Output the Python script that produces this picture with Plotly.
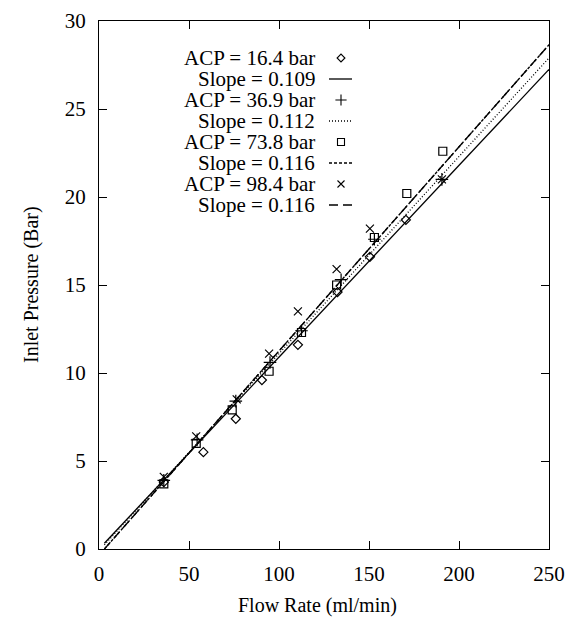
import plotly.graph_objects as go

# ---- data ----
acp_labels = ["ACP = 16.4 bar", "ACP = 36.9 bar", "ACP = 73.8 bar", "ACP = 98.4 bar"]
slope_labels = ["Slope = 0.109", "Slope = 0.112", "Slope = 0.116", "Slope = 0.116"]
slopes = [0.109, 0.112, 0.116, 0.116]
intercepts = [0.0, -0.1, -0.35, -0.35]
fit_x = [3, 250]

flow_16 = [36, 58, 76, 90.5, 110.5, 132.5, 150.5, 170.5]
pres_16 = [3.8, 5.5, 7.4, 9.6, 11.6, 14.6, 16.6, 18.7]

flow_37 = [36, 54.5, 76, 95, 112.5, 134.5, 153, 190.5]
pres_37 = [3.9, 6.2, 8.4, 10.6, 12.4, 15.3, 17.6, 21.0]

flow_74 = [36, 54, 74, 94.5, 112.5, 132, 153, 171, 191]
pres_74 = [3.7, 6.0, 7.9, 10.1, 12.3, 15.0, 17.7, 20.2, 22.6]

flow_98 = [36, 54, 76.5, 94.5, 110.5, 132, 150.5, 190.5]
pres_98 = [4.1, 6.4, 8.5, 11.1, 13.5, 15.9, 18.2, 21.0]

x_ticks = [0, 50, 100, 150, 200, 250]
y_ticks = [0, 5, 10, 15, 20, 25, 30]

symbols = ["diamond-open", "cross-thin-open", "square-open", "x-thin-open"]
msizes = [7, 9, 8, 8]
dashes = ["solid", "1px,2px", "3px,2px", "9px,5px"]
flows = [flow_16, flow_37, flow_74, flow_98]
press = [pres_16, pres_37, pres_74, pres_98]

FONT = "Liberation Serif"

fig = go.Figure()

for i in range(4):
    fy = [slopes[i] * x + intercepts[i] for x in fit_x]
    fig.add_trace(go.Scatter(x=fit_x, y=fy, mode="lines",
                             line=dict(color="black", width=1.3, dash=dashes[i]),
                             showlegend=False, hoverinfo="skip"))
for i in range(4):
    fig.add_trace(go.Scatter(x=flows[i], y=press[i], mode="markers",
                             marker=dict(symbol=symbols[i], size=msizes[i], color="black",
                                         line=dict(color="black", width=1.2)),
                             showlegend=False))

# ---- geometry (body margin removed via post_script) ----
W, H = 566, 623
L, R, T, B = 99, 17, 21, 74
pw, ph = W - L - R, H - T - B

def xp(px):  # page pixel -> paper
    return (px - L) / pw

def yp(py):
    return (H - B - py) / ph

row0, step = 58, 21
legend_marker_x = []
legend_marker_y = []
for i in range(4):
    ya = row0 + step * (2 * i)
    yb = row0 + step * (2 * i + 1)
    fig.add_annotation(x=xp(317), y=yp(ya), xref="paper", yref="paper",
                       text=acp_labels[i], showarrow=False, xanchor="right", yanchor="middle",
                       font=dict(family=FONT, size=21, color="black"))
    fig.add_annotation(x=xp(317), y=yp(yb), xref="paper", yref="paper",
                       text=slope_labels[i], showarrow=False, xanchor="right", yanchor="middle",
                       font=dict(family=FONT, size=21, color="black"))
    fig.add_shape(type="line", xref="paper", yref="paper",
                  x0=xp(329), x1=xp(352), y0=yp(yb), y1=yp(yb),
                  line=dict(color="black", width=1.3, dash=dashes[i]))
    legend_marker_x.append(xp(341))
    legend_marker_y.append(yp(ya))

for i in range(4):
    fig.add_trace(go.Scatter(x=[legend_marker_x[i]], y=[legend_marker_y[i]], mode="markers",
                             xaxis="x2", yaxis="y2",
                             marker=dict(symbol=symbols[i], size=msizes[i] - 1, color="black",
                                         line=dict(color="black", width=1.1)),
                             showlegend=False, hoverinfo="skip"))

# axis titles
fig.add_annotation(x=xp(317), y=yp(605), xref="paper", yref="paper", text="Flow Rate (ml/min)",
                   showarrow=False, xanchor="center", yanchor="middle",
                   font=dict(family=FONT, size=20, color="black"))
fig.add_annotation(x=xp(31), y=yp(285), xref="paper", yref="paper", text="Inlet Pressure (Bar)",
                   showarrow=False, xanchor="center", yanchor="middle", textangle=-90,
                   font=dict(family=FONT, size=20, color="black"))

axis_common = dict(showgrid=False, zeroline=False, showline=True, linecolor="black", linewidth=1.3,
                   mirror="ticks", ticks="inside", ticklen=8, tickwidth=1.2, tickcolor="black",
                   automargin=False,
                   tickfont=dict(family=FONT, size=21, color="black"))

fig.update_layout(
    width=W, height=H,
    margin=dict(l=L, r=R, t=T, b=B),
    paper_bgcolor="white", plot_bgcolor="white",
    showlegend=False,
    xaxis=dict(range=[0, 250], tickvals=x_ticks, ticktext=[str(v) for v in x_ticks],
               ticklabelstandoff=6, **axis_common),
    yaxis=dict(range=[0, 30], tickvals=y_ticks, ticktext=[str(v) for v in y_ticks],
               ticklabelstandoff=8, **axis_common),
    xaxis2=dict(range=[0, 1], overlaying="x", visible=False),
    yaxis2=dict(range=[0, 1], overlaying="y", visible=False),
)

fig.write_html("out.html", config={"displayModeBar": False},
               post_script="document.body.style.margin='0';document.body.style.overflow='hidden';")
